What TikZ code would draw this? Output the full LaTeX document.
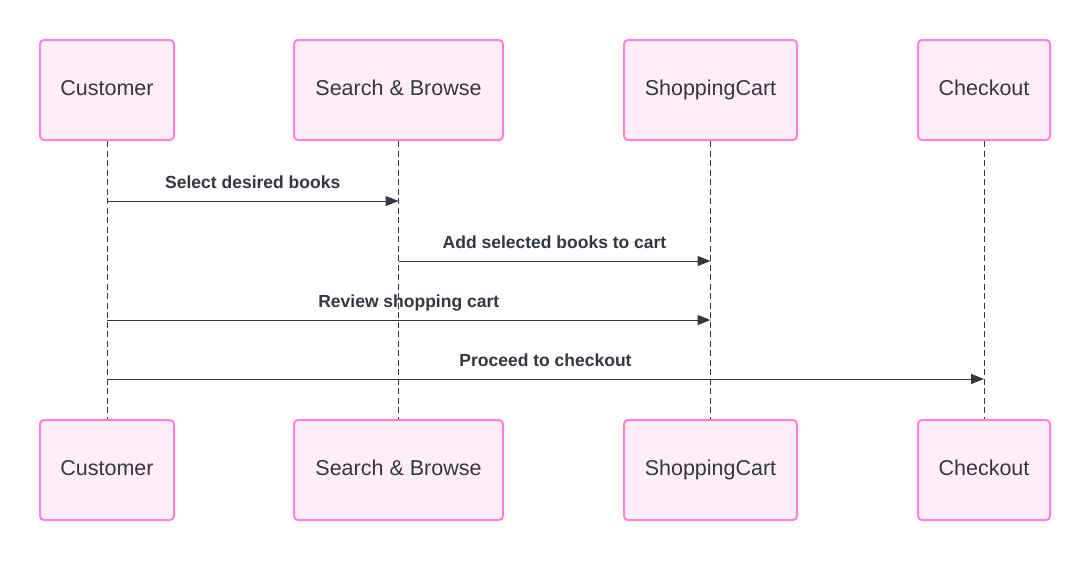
\documentclass[tikz,border=0pt]{standalone}
\usepackage{fontspec}
\setmainfont{Liberation Sans}
\usetikzlibrary{arrows.meta}
\definecolor{boxfill}{HTML}{FFEEFA}
\definecolor{boxline}{HTML}{FF80DE}
\definecolor{ink}{HTML}{333740}
\tikzset{
  actor/.style={draw=boxline, fill=boxfill, line width=2pt, rounded corners=4pt,
    minimum height=100, inner sep=0pt, text height=17pt, text depth=5.6pt,
    text=ink, font=\fontsize{21.5}{26}\selectfont},
  lifeline/.style={draw=ink, line width=0.9pt, dash pattern=on 6pt off 3.5pt},
  msg/.style={draw=ink, line width=1pt, -{Triangle[length=13pt,width=10pt]}},
  msglabel/.style={above=12pt, inner sep=0pt, text depth=0pt, text=ink,
    font=\bfseries\fontsize{17.5}{21}\selectfont}
}
\begin{document}
\begin{tikzpicture}[x=1pt,y=-1pt]
  \useasboundingbox[fill=white] (0,0) rectangle (1091,560);
  % actors on top
  \node[actor, minimum width=134] (cust) at (107,90) {Customer};
  \node[actor, minimum width=209] (search) at (398.5,90) {Search \& Browse};
  \node[actor, minimum width=173] (cart) at (710.5,90) {ShoppingCart};
  \node[actor, minimum width=132] (check) at (984,90) {Checkout};
  % actors at the bottom
  \node[actor, minimum width=134] (custB) at (107,470) {Customer};
  \node[actor, minimum width=209] (searchB) at (398.5,470) {Search \& Browse};
  \node[actor, minimum width=173] (cartB) at (710.5,470) {ShoppingCart};
  \node[actor, minimum width=132] (checkB) at (984,470) {Checkout};
  % lifelines
  \draw[lifeline] (cust) -- (custB);
  \draw[lifeline] (search) -- (searchB);
  \draw[lifeline] (cart) -- (cartB);
  \draw[lifeline] (check) -- (checkB);
  % messages
  \draw[msg] (cust |- 0,201) -- node[msglabel] {Select desired books} (search |- 0,201);
  \draw[msg] (search |- 0,261) -- node[msglabel] {Add selected books to cart} (cart |- 0,261);
  \draw[msg] (cust |- 0,320) -- node[msglabel] {Review shopping cart} (cart |- 0,320);
  \draw[msg] (cust |- 0,379) -- node[msglabel] {Proceed to checkout} (check |- 0,379);
\end{tikzpicture}
\end{document}
